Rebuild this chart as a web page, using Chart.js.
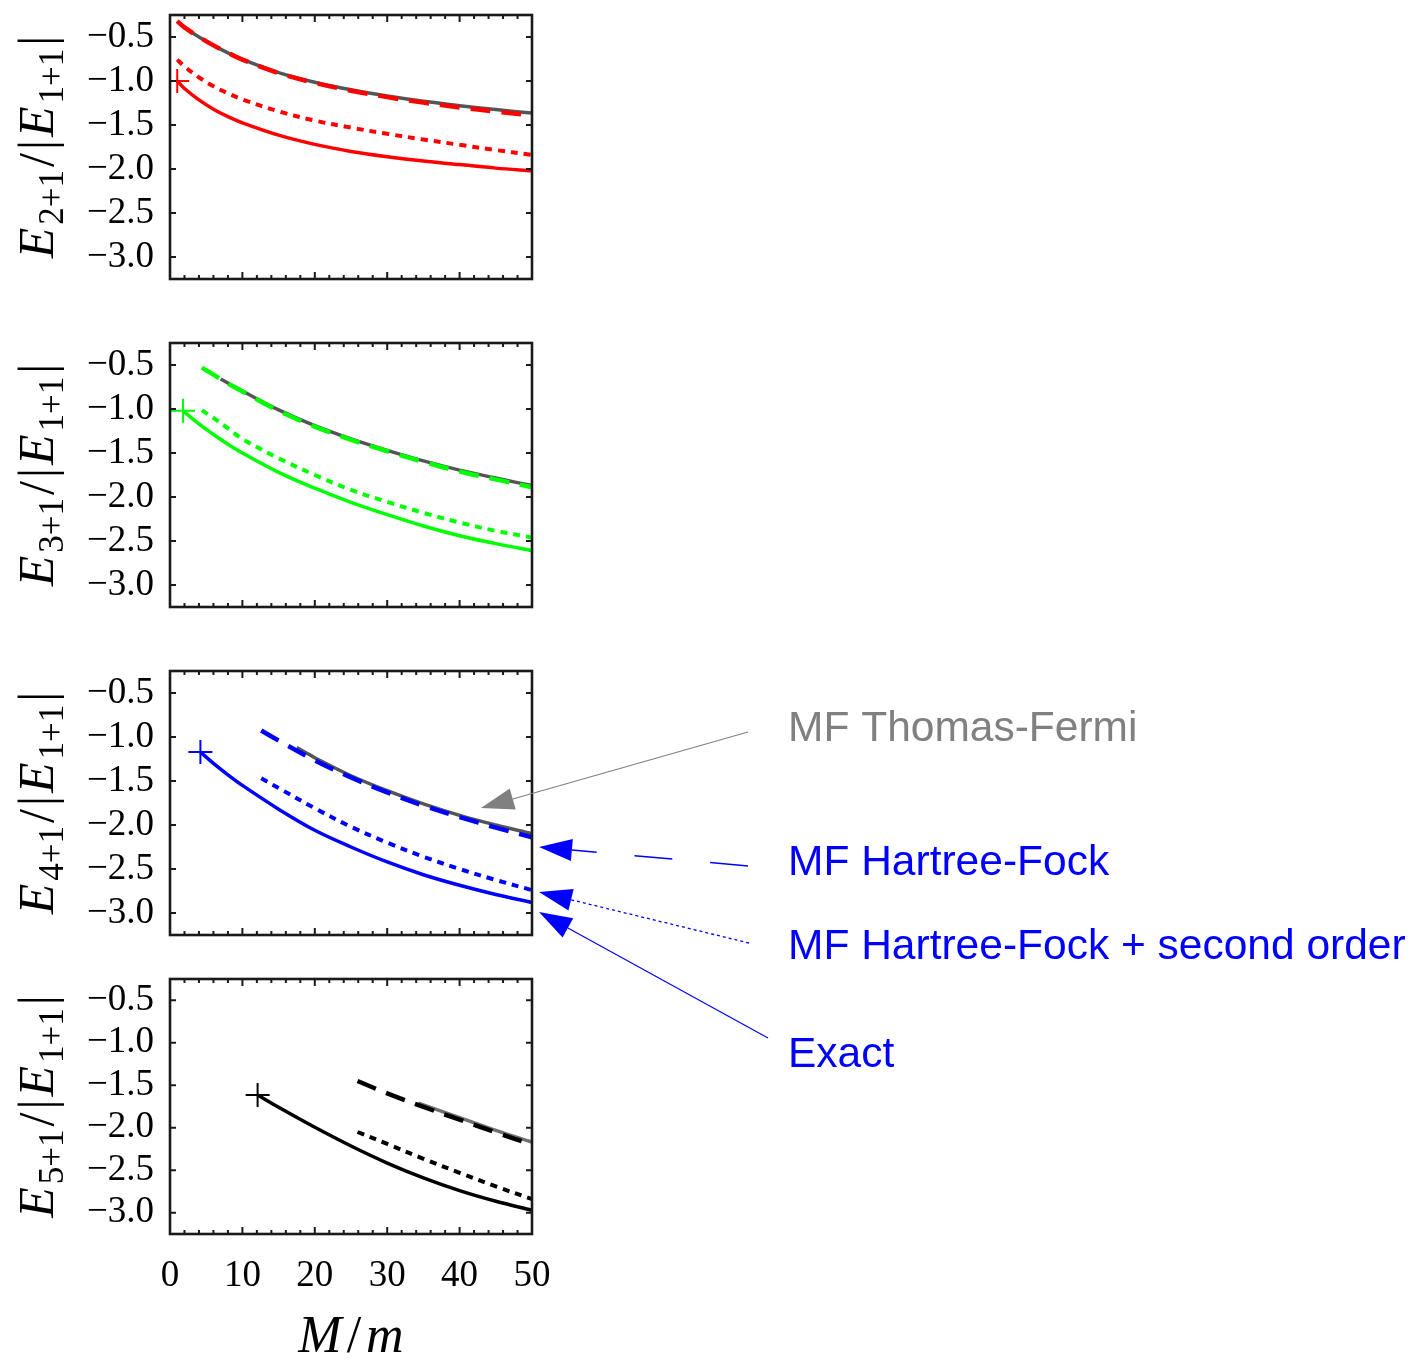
<!DOCTYPE html>
<html>
<head>
<meta charset="utf-8">
<script src="https://cdn.jsdelivr.net/npm/chart.js@4.4.1/dist/chart.umd.min.js"></script>
<style>
    body { margin: 0; background: #fff; }
    #page { position: relative; width: 1412px; height: 1362px; overflow: hidden; background: #fff; }
    #page canvas { position: absolute; left: 0; }
    #notes { top: 0; pointer-events: none; }
</style>
</head>
<body>
<div id="page"></div>
<script>
// Axis ticks shared by all four panels
const xTicks = [0, 10, 20, 30, 40, 50];
const yTicks = [-3.0, -2.5, -2.0, -1.5, -1.0, -0.5];

// N = 2 (red)
const mass2 = [1, 2, 4, 6, 8, 10, 15, 20, 25, 30, 35, 40, 45, 50];
const thomasFermi2 = [-0.32, -0.39, -0.50, -0.595, -0.68, -0.755, -0.905, -1.015, -1.10, -1.17, -1.23, -1.28, -1.325, -1.365];
const hartreeFock2 = [-0.32, -0.39, -0.50, -0.595, -0.68, -0.757, -0.91, -1.022, -1.11, -1.183, -1.246, -1.30, -1.347, -1.39];
const secondOrder2 = [-0.757, -0.835, -0.96, -1.06, -1.14, -1.21, -1.345, -1.45, -1.53, -1.60, -1.665, -1.725, -1.785, -1.84];
const exact2 = [-1.0, -1.085, -1.215, -1.32, -1.405, -1.475, -1.615, -1.72, -1.80, -1.86, -1.91, -1.95, -1.99, -2.02];
const onset2 = [1, -1.0];

// N = 3 (green)
const massTF3 = [7, 8, 10, 15, 20, 25, 30, 35, 40, 45, 50];
const thomasFermi3 = [-0.66, -0.705, -0.795, -1.01, -1.19, -1.34, -1.47, -1.59, -1.695, -1.785, -1.87];
const massMF3 = [4.4, 6, 8, 10, 15, 20, 25, 30, 35, 40, 45, 50];
const hartreeFock3 = [-0.53, -0.61, -0.71, -0.80, -1.02, -1.20, -1.35, -1.48, -1.60, -1.71, -1.80, -1.89];
const secondOrder3 = [-1.015, -1.10, -1.22, -1.34, -1.56, -1.75, -1.92, -2.055, -2.18, -2.29, -2.385, -2.46];
const massEx3 = [1.8, 4, 6, 8, 10, 15, 20, 25, 30, 35, 40, 45, 50];
const exact3 = [-1.02, -1.17, -1.29, -1.40, -1.50, -1.72, -1.90, -2.06, -2.20, -2.33, -2.44, -2.53, -2.61];
const onset3 = [1.8, -1.02];

// N = 4 (blue)
const massTF4 = [17.5, 20, 25, 30, 35, 40, 45, 50];
const thomasFermi4 = [-1.12, -1.235, -1.44, -1.61, -1.76, -1.89, -2.00, -2.10];
const massMF4 = [12.6, 15, 20, 25, 30, 35, 40, 45, 50];
const hartreeFock4 = [-0.926, -1.04, -1.265, -1.46, -1.63, -1.78, -1.91, -2.03, -2.14];
const secondOrder4 = [-1.47, -1.58, -1.81, -2.02, -2.20, -2.36, -2.50, -2.625, -2.74];
const massEx4 = [4.2, 6, 8, 10, 15, 20, 25, 30, 35, 40, 45, 50];
const exact4 = [-1.17, -1.30, -1.43, -1.55, -1.82, -2.06, -2.25, -2.42, -2.565, -2.685, -2.79, -2.88];
const onset4 = [4.2, -1.17];

// N = 5 (black)
const massTF5 = [34.3, 40, 45, 50];
const thomasFermi5 = [-1.71, -1.88, -2.03, -2.17];
const massMF5 = [25.9, 30, 35, 40, 45, 50];
const hartreeFock5 = [-1.45, -1.595, -1.755, -1.905, -2.055, -2.20];
const secondOrder5 = [-2.05, -2.19, -2.365, -2.53, -2.69, -2.84];
const massEx5 = [12.1, 15, 20, 25, 30, 35, 40, 45, 50];
const exact5 = [-1.615, -1.76, -1.995, -2.215, -2.415, -2.59, -2.74, -2.865, -2.97];
const onset5 = [12.1, -1.615];

const pts = (xs, ys) => xs.map((x, i) => ({ x: x, y: ys[i] }));

const panels = [
    { sub: '2+1', color: '#ff0000', tfColor: '#555555', top: 11, h: 272,
      tf: pts(mass2, thomasFermi2), hf: pts(mass2, hartreeFock2), so: pts(mass2, secondOrder2), ex: pts(mass2, exact2), onset: onset2 },
    { sub: '3+1', color: '#00ff00', tfColor: '#555555', top: 339, h: 272,
      tf: pts(massTF3, thomasFermi3), hf: pts(massMF3, hartreeFock3), so: pts(massMF3, secondOrder3), ex: pts(massEx3, exact3), onset: onset3 },
    { sub: '4+1', color: '#0000ff', tfColor: '#555555', top: 667, h: 272,
      tf: pts(massTF4, thomasFermi4), hf: pts(massMF4, hartreeFock4), so: pts(massMF4, secondOrder4), ex: pts(massEx4, exact4), onset: onset4 },
    { sub: '5+1', color: '#000000', tfColor: '#707070', top: 975, h: 259,
      tf: pts(massTF5, thomasFermi5), hf: pts(massMF5, hartreeFock5), so: pts(massMF5, secondOrder5), ex: pts(massEx5, exact5), onset: onset5 }
];

const serif = "'Liberation Serif', 'DejaVu Serif', serif";

// Draws a run of differently styled pieces centred on (0, 0) of the current transform
function drawRun(ctx, parts, gap) {
    let total = 0;
    parts.forEach(p => { ctx.font = p.f; p.w = ctx.measureText(p.t).width; total += p.w; });
    total += gap * (parts.length - 1);
    let cx = -total / 2;
    parts.forEach(p => { ctx.font = p.f; ctx.fillText(p.t, cx, p.dy || 0); cx += p.w + gap; });
}

// E_{N+1}/|E_{1+1}| drawn sideways with real subscripts
function drawYTitle(ctx, sub, baseX, midY) {
    const big = '50px ' + serif, it = 'italic 50px ' + serif, small = '35px ' + serif;
    ctx.save();
    ctx.translate(baseX, midY);
    ctx.rotate(-Math.PI / 2);
    ctx.fillStyle = '#000';
    ctx.textBaseline = 'alphabetic';
    drawRun(ctx, [
        { t: 'E', f: it },
        { t: sub, f: small, dy: 10 },
        { t: '/', f: big },
        { t: '|', f: big },
        { t: 'E', f: it },
        { t: '1+1', f: small, dy: 10 },
        { t: '|', f: big }
    ], 3);
    ctx.restore();
}

// Frame with inward ticks on every side, plus the axis titles
const framePlugin = {
    id: 'frame',
    afterDraw(chart, args, opts) {
        const { ctx, chartArea: a } = chart;
        const x = chart.scales.x, y = chart.scales.y;
        ctx.save();
        ctx.strokeStyle = '#1a1a1a';
        ctx.lineWidth = 2;
        ctx.beginPath();
        yTicks.forEach(v => {
            const py = y.getPixelForValue(v);
            ctx.moveTo(a.left, py); ctx.lineTo(a.left + 6, py);
            ctx.moveTo(a.right, py); ctx.lineTo(a.right - 6, py);
        });
        for (let v = 0; v <= 50; v += 2) {
            const px = x.getPixelForValue(v);
            const len = xTicks.includes(v) ? 7 : 4;
            ctx.moveTo(px, a.top); ctx.lineTo(px, a.top + len);
            ctx.moveTo(px, a.bottom); ctx.lineTo(px, a.bottom - len);
        }
        ctx.stroke();
        ctx.lineWidth = 2.6;
        ctx.strokeRect(a.left, a.top, a.right - a.left, a.bottom - a.top);
        ctx.restore();

        drawYTitle(ctx, opts.sub, 53, (a.top + a.bottom) / 2);

        if (opts.xTitle) {
            const it = 'italic 52px ' + serif;
            ctx.save();
            ctx.translate((a.left + a.right) / 2, a.bottom + 118);
            ctx.fillStyle = '#000';
            ctx.textBaseline = 'alphabetic';
            drawRun(ctx, [
                { t: 'M', f: it },
                { t: '/', f: '52px ' + serif },
                { t: 'm', f: it }
            ], 5);
            ctx.restore();
        }
    }
};

function curve(data, color, dash, width, order) {
    return {
        data: data,
        showLine: true,
        borderColor: color,
        borderWidth: width,
        borderDash: dash,
        borderCapStyle: 'butt',
        pointRadius: 0,
        fill: false,
        tension: 0.35,
        order: order
    };
}

const page = document.getElementById('page');
const charts = panels.map((p, i) => {
    const last = i === panels.length - 1;
    const padTop = 10;
    const axisH = last ? 130 : 0;
    const padBottom = last ? 0 : 10;
    const canvas = document.createElement('canvas');
    canvas.width = 560;
    canvas.height = padTop + p.h + axisH + padBottom;
    canvas.style.top = (p.top - padTop) + 'px';
    page.appendChild(canvas);

    return new Chart(canvas, {
        type: 'scatter',
        data: {
            datasets: [
                curve(p.tf, p.tfColor, [], 3.5, 4),
                curve(p.hf, p.color, [20, 11], 4.5, 3),
                curve(p.so, p.color, [7, 6], 4, 2),
                curve(p.ex, p.color, [], 3.5, 1),
                {
                    data: [{ x: p.onset[0], y: p.onset[1] }],
                    showLine: false,
                    pointStyle: 'cross',
                    pointRadius: 12,
                    pointBorderColor: p.color,
                    pointBorderWidth: 2,
                    borderColor: p.color,
                    order: 0
                }
            ]
        },
        options: {
            responsive: false,
            animation: false,
            events: [],
            layout: { padding: { top: padTop, right: 28, bottom: padBottom, left: 0 } },
            plugins: {
                legend: { display: false },
                tooltip: { enabled: false },
                frame: { sub: p.sub, xTitle: last }
            },
            scales: {
                x: {
                    type: 'linear',
                    min: 0,
                    max: 50,
                    display: last,
                    afterBuildTicks: s => { s.ticks = xTicks.map(v => ({ value: v })); },
                    afterFit: s => {
                        s.height = axisH;
                        s.paddingLeft = 0;
                        s.paddingRight = 0;
                    },
                    grid: { display: false },
                    border: { display: false },
                    ticks: {
                        padding: 12,
                        color: '#000',
                        autoSkip: false,
                        maxRotation: 0,
                        font: { family: serif, size: 37 }
                    }
                },
                y: {
                    type: 'linear',
                    min: -3.25,
                    max: -0.25,
                    afterBuildTicks: s => { s.ticks = yTicks.map(v => ({ value: v })); },
                    afterFit: s => {
                        s.width = 170;
                        s.paddingTop = 0;
                        s.paddingBottom = 0;
                    },
                    grid: { display: false },
                    border: { display: false },
                    ticks: {
                        padding: 8,
                        color: '#000',
                        font: { family: serif, size: 37 },
                        callback: v => '\u2212' + Math.abs(v).toFixed(1)
                    }
                }
            }
        },
        plugins: [framePlugin]
    });
});

// Labelled arrows on the right, pointing at the N = 4 curves
const notes = [
    { text: 'MF Thomas-Fermi', color: '#808080', at: [788, 741], from: [748, 732], tip: [481, 808], dash: [], lw: 1.2 },
    { text: 'MF Hartree-Fock', color: '#0000ff', at: [788, 875], from: [748, 866], tip: [539, 847], dash: [38, 38], lw: 1.5 },
    { text: 'MF Hartree-Fock + second order', color: '#0000ff', at: [788, 959], from: [749, 943], tip: [539, 892], dash: [3, 3], lw: 1.3 },
    { text: 'Exact', color: '#0000ff', at: [788, 1067], from: [768, 1038], tip: [539, 912], dash: [], lw: 1.2 }
];

const overlay = document.createElement('canvas');
overlay.id = 'notes';
overlay.width = 1412;
overlay.height = 1362;
page.appendChild(overlay);
const octx = overlay.getContext('2d');

notes.forEach(n => {
    const dx = n.from[0] - n.tip[0], dy = n.from[1] - n.tip[1];
    const len = Math.hypot(dx, dy);
    const ux = dx / len, uy = dy / len;
    const headLen = 33, headHalf = 11;
    const bx = n.tip[0] + ux * headLen, by = n.tip[1] + uy * headLen;

    octx.save();
    octx.strokeStyle = n.color;
    octx.lineWidth = n.lw;
    octx.setLineDash(n.dash);
    octx.beginPath();
    octx.moveTo(n.from[0], n.from[1]);
    octx.lineTo(bx, by);
    octx.stroke();
    octx.setLineDash([]);

    octx.fillStyle = n.color;
    octx.beginPath();
    octx.moveTo(n.tip[0], n.tip[1]);
    octx.lineTo(bx - uy * headHalf, by + ux * headHalf);
    octx.lineTo(bx + uy * headHalf, by - ux * headHalf);
    octx.closePath();
    octx.fill();

    octx.font = "42.5px 'Liberation Sans', Arial, sans-serif";
    octx.textBaseline = 'alphabetic';
    octx.fillText(n.text, n.at[0], n.at[1]);
    octx.restore();
});
</script>
</body>
</html>
